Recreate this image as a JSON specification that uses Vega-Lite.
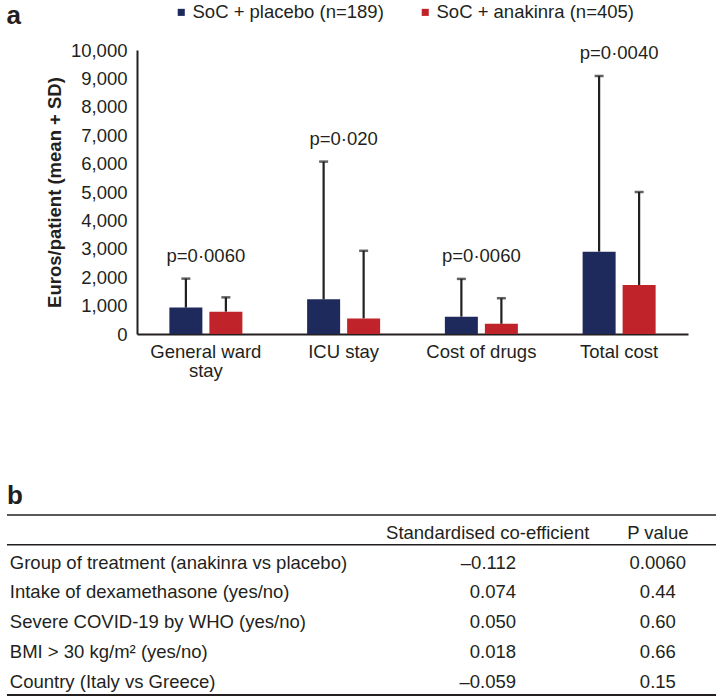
{
  "$schema": "https://vega.github.io/schema/vega-lite/v6.json",
  "padding": {"left": 5, "top": 3, "right": 0, "bottom": 0},
  "background": "white",
  "spacing": 103,
  "config": {
    "font": "Liberation Sans",
    "view": {"stroke": null},
    "text": {"font": "Liberation Sans", "fontSize": 18.5, "color": "#231f20"},
    "axisY": {"labelOverlap": false, "labelBound": false, "labelFlush": false, "labelSeparation": 0}
  },
  "datasets": {
    "bars": [
      {"category": "General ward stay", "group": "SoC + placebo (n=189)", "mean": 930, "upper": 1950, "p": "p=0·0060"},
      {"category": "General ward stay", "group": "SoC + anakinra (n=405)", "mean": 785, "upper": 1290},
      {"category": "ICU stay", "group": "SoC + placebo (n=189)", "mean": 1220, "upper": 6070, "p": "p=0·020"},
      {"category": "ICU stay", "group": "SoC + anakinra (n=405)", "mean": 550, "upper": 2930},
      {"category": "Cost of drugs", "group": "SoC + placebo (n=189)", "mean": 610, "upper": 1940, "p": "p=0·0060"},
      {"category": "Cost of drugs", "group": "SoC + anakinra (n=405)", "mean": 360, "upper": 1260},
      {"category": "Total cost", "group": "SoC + placebo (n=189)", "mean": 2900, "upper": 9085, "p": "p=0·0040"},
      {"category": "Total cost", "group": "SoC + anakinra (n=405)", "mean": 1725, "upper": 5000}
    ],
    "table": [
      {"idx": 1, "variable": "Group of treatment (anakinra vs placebo)", "coef": "–0.112", "p": "0.0060"},
      {"idx": 2, "variable": "Intake of dexamethasone (yes/no)", "coef": "0.074", "p": "0.44"},
      {"idx": 3, "variable": "Severe COVID-19 by WHO (yes/no)", "coef": "0.050", "p": "0.60"},
      {"idx": 4, "variable": "BMI > 30 kg/m² (yes/no)", "coef": "0.018", "p": "0.66"},
      {"idx": 5, "variable": "Country (Italy vs Greece)", "coef": "–0.059", "p": "0.15"}
    ]
  },
  "vconcat": [
    {
      "width": 551,
      "height": 284,
      "title": {"text": "a", "anchor": "start", "frame": "bounds", "fontSize": 26, "fontWeight": "bold", "font": "Liberation Sans", "color": "#231f20", "offset": 0, "dx": -39, "dy": -12},
      "data": {"name": "bars"},
      "encoding": {
        "x": {
          "field": "category", "type": "nominal",
          "sort": ["General ward stay", "ICU stay", "Cost of drugs", "Total cost"],
          "scale": {"paddingInner": 0.47, "paddingOuter": 0.235},
          "axis": {
            "title": null, "ticks": false, "labelAngle": 0, "labelFontSize": 18.5, "labelColor": "#231f20",
            "labelPadding": 8, "labelLineHeight": 19, "domainColor": "#231f20", "domainWidth": 2,
            "labelExpr": "datum.value == 'General ward stay' ? ['General ward', 'stay'] : datum.value"
          }
        }
      },
      "layer": [
        {
          "mark": {"type": "bar"},
          "encoding": {
            "xOffset": {"field": "group", "type": "nominal", "sort": ["SoC + placebo (n=189)", "SoC + anakinra (n=405)"], "scale": {"paddingInner": 0.175, "paddingOuter": 0}},
            "y": {
              "field": "mean", "type": "quantitative",
              "scale": {"domain": [0, 10000], "nice": false},
              "axis": {
                "title": "Euros/patient (mean + SD)", "titleFontSize": 18.5, "titleFontWeight": "bold", "titleColor": "#231f20", "titlePadding": 6,
                "tickCount": 10, "format": ",d", "labelOverlap": false,
                "ticks": false, "grid": false, "labelFontSize": 18.5, "labelColor": "#231f20", "labelPadding": 10,
                "domainColor": "#231f20", "domainWidth": 2
              }
            },
            "color": {
              "field": "group", "type": "nominal",
              "scale": {"domain": ["SoC + placebo (n=189)", "SoC + anakinra (n=405)"], "range": ["#1f2a5c", "#c1232a"]},
              "legend": {
                "title": null, "orient": "none", "direction": "horizontal", "legendX": 35, "legendY": -47,
                "symbolType": "square", "symbolSize": 50, "symbolStrokeWidth": 0, "labelFontSize": 18.5, "labelColor": "#231f20",
                "labelOffset": 2, "columnPadding": 32, "padding": 0, "labelLimit": 400
              }
            }
          }
        },
        {
          "mark": {"type": "rule", "strokeWidth": 2.2, "color": "#231f20"},
          "encoding": {
            "xOffset": {"field": "group", "type": "nominal", "sort": ["SoC + placebo (n=189)", "SoC + anakinra (n=405)"]},
            "y": {"field": "mean", "type": "quantitative"},
            "y2": {"field": "upper"}
          }
        },
        {
          "mark": {"type": "tick", "thickness": 2.5, "size": 9, "color": "#231f20"},
          "encoding": {
            "xOffset": {"field": "group", "type": "nominal", "sort": ["SoC + placebo (n=189)", "SoC + anakinra (n=405)"]},
            "y": {"field": "upper", "type": "quantitative"}
          }
        },
        {
          "transform": [{"filter": "isValid(datum.p)"}],
          "mark": {"type": "text", "dy": -23, "baseline": "middle", "fontSize": 18.5, "color": "#231f20"},
          "encoding": {
            "y": {"field": "upper", "type": "quantitative"},
            "text": {"field": "p"}
          }
        }
      ]
    },
    {
      "width": 579,
      "height": 180,
      "title": {"text": "b", "anchor": "start", "frame": "group", "fontSize": 26, "fontWeight": "bold", "font": "Liberation Sans", "color": "#231f20", "offset": 5, "dx": -130},
      "data": {"name": "table"},
      "layer": [
        {
          "data": {"values": [{}]},
          "mark": {"type": "rule", "strokeWidth": 1.5, "color": "#231f20"},
          "encoding": {
            "x": {"datum": 0, "type": "quantitative", "scale": {"domain": [18.34, 100], "nice": false, "zero": false}, "axis": null},
            "x2": {"datum": 100},
            "y": {"datum": -0.6, "type": "quantitative", "scale": {"domain": [-0.6, 5.45], "reverse": true, "nice": false, "zero": false}, "axis": null}
          }
        },
        {
          "data": {"values": [{}]},
          "mark": {"type": "rule", "strokeWidth": 1.3, "color": "#231f20"},
          "encoding": {"x": {"datum": 0, "type": "quantitative"}, "x2": {"datum": 100}, "y": {"datum": 0.4, "type": "quantitative"}}
        },
        {
          "data": {"values": [{}]},
          "mark": {"type": "rule", "strokeWidth": 2, "color": "#231f20"},
          "encoding": {"x": {"datum": 0, "type": "quantitative"}, "x2": {"datum": 100}, "y": {"datum": 5.45, "type": "quantitative"}}
        },
        {
          "data": {"values": [{}]},
          "mark": {"type": "text", "align": "center", "baseline": "middle", "fontSize": 18.5, "color": "#231f20", "text": "Standardised co-efficient"},
          "encoding": {
            "x": {"datum": 67.8, "type": "quantitative"},
            "y": {"datum": 0, "type": "quantitative"}
          }
        },
        {
          "data": {"values": [{}]},
          "mark": {"type": "text", "align": "center", "baseline": "middle", "fontSize": 18.5, "color": "#231f20", "text": "P value"},
          "encoding": {
            "x": {"datum": 91.8, "type": "quantitative"},
            "y": {"datum": 0, "type": "quantitative"}
          }
        },
        {
          "mark": {"type": "text", "align": "left", "baseline": "middle", "fontSize": 18.5, "color": "#231f20"},
          "encoding": {
            "x": {"datum": 0.4, "type": "quantitative"},
            "y": {"field": "idx", "type": "quantitative"},
            "text": {"field": "variable"}
          }
        },
        {
          "mark": {"type": "text", "align": "right", "baseline": "middle", "fontSize": 18.5, "color": "#231f20"},
          "encoding": {
            "x": {"datum": 71.8, "type": "quantitative"},
            "y": {"field": "idx", "type": "quantitative"},
            "text": {"field": "coef"}
          }
        },
        {
          "mark": {"type": "text", "align": "center", "baseline": "middle", "fontSize": 18.5, "color": "#231f20"},
          "encoding": {
            "x": {"datum": 91.8, "type": "quantitative"},
            "y": {"field": "idx", "type": "quantitative"},
            "text": {"field": "p"}
          }
        }
      ]
    }
  ]
}
